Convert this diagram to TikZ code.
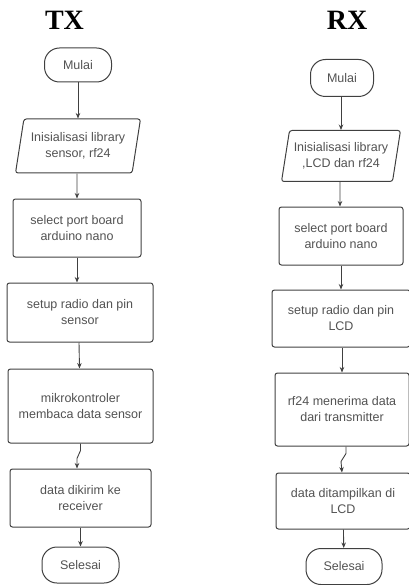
\documentclass[tikz,border=0pt]{standalone}
\usepackage{fontspec}
\setmainfont{Liberation Serif}
\setsansfont{Liberation Sans}
\usetikzlibrary{shapes.geometric,arrows.meta}

\begin{document}
\begin{tikzpicture}[x=1pt,y=-1pt,
    box/.style={rectangle,draw=black!75,line width=1pt,rounded corners=2.5pt,
        align=center,inner sep=2pt,text=black!68,
        font=\sffamily\fontsize{12.5}{16}\selectfont},
    term/.style={box,rounded corners=15pt},
    io/.style={box,trapezium,trapezium left angle=76,trapezium right angle=104,
        trapezium stretches=true},
    arr/.style={-{Stealth[length=5.5pt,width=4.5pt]},line width=0.9pt,draw=black!75},
    title/.style={font=\bfseries\fontsize{28}{30}\selectfont,anchor=base}]
    \useasboundingbox (0,0) rectangle (408,585);

    % Titles
    \node at (64.5, 29.5) [title] (tx) {TX};
    \node at (347, 29.5) [title] (rx) {RX};

    % Transmitter
    \node at (78, 65) [term,minimum width=67pt,minimum height=34pt] (t1) {Mulai};
    \node at (78, 146) [io,minimum width=125pt,minimum height=54pt] (t2) {Inisialisasi library\\sensor, rf24};
    \node at (77, 228) [box,minimum width=128pt,minimum height=58pt] (t3) {select port board\\arduino nano};
    \node at (80, 312.5) [box,minimum width=146pt,minimum height=59pt] (t4) {setup radio dan pin\\sensor};
    \node at (80.5, 406) [box,minimum width=145pt,minimum height=74pt] (t5) {mikrokontroler\\membaca data sensor};
    \node at (80.5, 498) [box,minimum width=141pt,minimum height=58pt] (t6) {data dikirim ke\\receiver};
    \node at (80.5, 565) [term,minimum width=77pt,minimum height=36pt] (t7) {Selesai};

    % Receiver
    \node at (342, 78) [term,minimum width=63pt,minimum height=37pt] (r1) {Mulai};
    \node at (341, 156) [io,minimum width=119pt,minimum height=51pt] (r2) {Inisialisasi library\\,LCD dan rf24};
    \node at (341, 236) [box,minimum width=124pt,minimum height=58pt] (r3) {select port board\\arduino nano};
    \node at (341, 318.5) [box,minimum width=138pt,minimum height=57pt] (r4) {setup radio dan pin\\LCD};
    \node at (342, 409.5) [box,minimum width=134pt,minimum height=73pt] (r5) {rf24 menerima data\\dari transmitter};
    \node at (343, 501) [box,minimum width=134pt,minimum height=56pt] (r6) {data ditampilkan di\\LCD};
    \node at (344, 566.5) [term,minimum width=76pt,minimum height=36pt] (r7) {Selesai};

    % TX arrows
    \draw[arr] (t1) -- (t2);
    \draw[arr] ([xshift=-1pt]t2.south) -- (t3);
    \draw[arr] (t3) -- (t3.south |- t4.north);
    \draw[arr] ([xshift=-1pt]t4.south) -- ([xshift=-1pt]t5.north);
    \draw[arr] (t5.south) -- ++(0,7) -- ++(-3.5,8) -- ([xshift=-3.5pt]t6.north);
    \draw[arr] (t6) -- (t7);

    % RX arrows
    \draw[arr] ([xshift=-1pt]r1.south) -- (r2);
    \draw[arr] ([xshift=-1pt]r2.south) -- ([xshift=-1pt]r3.north);
    \draw[arr] (r3) -- (r4);
    \draw[arr] ([xshift=1pt]r4.south) -- (r5);
    \draw[arr] ([xshift=4pt]r5.south) -- ++(0,7) -- ++(-5,8) -- ([xshift=-1pt]r6.north);
    \draw[arr] (r6) -- (r7);
\end{tikzpicture}
\end{document}
